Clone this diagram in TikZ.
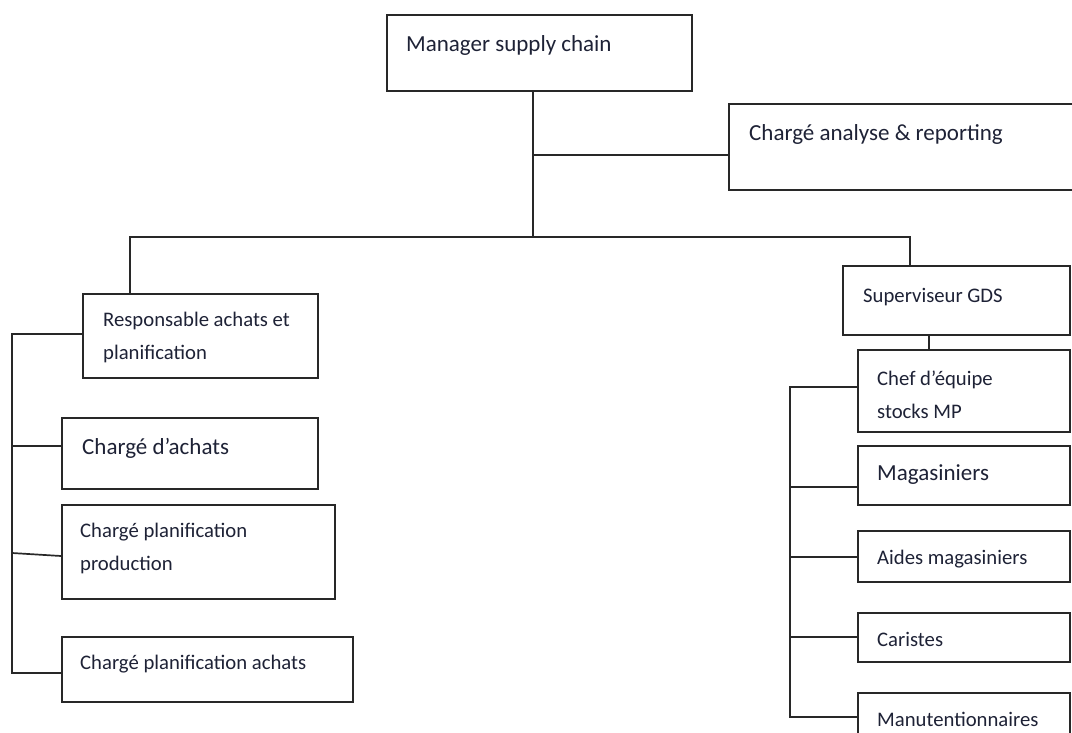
\documentclass[tikz,border=0pt]{standalone}
\usepackage{fontspec}
\setmainfont{Carlito}
\definecolor{inkline}{RGB}{40,40,40}
\definecolor{inktext}{RGB}{30,34,54}
\begin{document}
\begin{tikzpicture}[x=1pt,y=-1pt,
  box/.style={draw=inkline, line width=1.7pt, rectangle, inner sep=0pt, anchor=north west},
  big/.style={text=inktext, inner sep=0pt, anchor=west, font=\fontsize{23}{28}\selectfont},
  small/.style={text=inktext, inner sep=0pt, anchor=west, align=left, font=\fontsize{20.7}{33}\selectfont},
  link/.style={draw=inkline, line width=1.7pt, line cap=rect}]
\useasboundingbox (0,0) rectangle (1072,733);
\clip (0,0) rectangle (1072,733);
\fill[white] (0,0) rectangle (1072,733);

% boxes: top left corner, width and height
\node[box, minimum width=305pt, minimum height=76pt] (mgr)  at (386,14)  {};
\node[box, minimum width=352pt, minimum height=86pt] (ana)  at (728,103) {};
\node[box, minimum width=235pt, minimum height=84pt] (resp) at (82,293)  {};
\node[box, minimum width=256pt, minimum height=71pt] (ach)  at (61,417)  {};
\node[box, minimum width=273pt, minimum height=94pt] (prod) at (61,504)  {};
\node[box, minimum width=291pt, minimum height=65pt] (pach) at (61,636)  {};
\node[box, minimum width=227pt, minimum height=69pt] (sup)  at (842,265) {};
\node[box, minimum width=212pt, minimum height=82pt] (chef) at (857,349) {};
\node[box, minimum width=212pt, minimum height=59pt] (mag)  at (857,445) {};
\node[box, minimum width=212pt, minimum height=51pt] (aide) at (857,530) {};
\node[box, minimum width=212pt, minimum height=49pt] (car)  at (857,612) {};
\node[box, minimum width=212pt, minimum height=53pt] (manu) at (857,692) {};

% labels
\node[big]   (mgr-t)  at (406,45)  {Manager supply chain};
\node[big]   (ana-t)  at (749,134) {Chargé analyse \& reporting};
\node[small] (resp-t) at (103,337) {Responsable achats et\\planification};
\node[big]   (ach-t)  at (82,448)  {Chargé d’achats};
\node[small] (prod-t) at (80,548)  {Chargé planification\\production};
\node[small] (pach-t) at (80,664)  {Chargé planification achats};
\node[small] (sup-t)  at (863,297) {Superviseur GDS};
\node[small] (chef-t) at (877,395) {Chef d’équipe\\stocks MP};
\node[big]   (mag-t)  at (877,475) {Magasiniers};
\node[small] (aide-t) at (877,559) {Aides magasiniers};
\node[small] (car-t)  at (877,639) {Caristes};
\node[small] (manu-t) at (877,719) {Manutentionnaires};

% junction points of the tree
\coordinate (trunk) at (533,237);
\coordinate (anaj)  at (533,155);
\coordinate (busL)  at (130,237);
\coordinate (busR)  at (910,237);
\coordinate (supj)  at (929,0);
\coordinate (lsp)   at (12,0);
\coordinate (rsp)   at (790,0);

% top level
\draw[link] (trunk |- mgr.south) -- (trunk);
\draw[link] (anaj) -- (anaj -| ana.west);
\draw[link] (busL) -- (busR);
\draw[link] (busL) -- (busL |- resp.north);
\draw[link] (busR) -- (busR |- sup.north);

% purchasing and planning branch
\draw[link] (resp.west |- 0,334) -- (lsp |- 0,334) -- (lsp |- 0,673) -- (pach.west |- 0,673);
\draw[link] (lsp |- 0,446) -- (ach.west |- 0,446);
\draw[link] (lsp |- 0,553) -- (prod.west |- 0,556);

% warehouse branch
\draw[link] (supj |- sup.south) -- (supj |- chef.north);
\draw[link] (chef.west |- 0,387) -- (rsp |- 0,387) -- (rsp |- 0,717) -- (manu.west |- 0,717);
\draw[link] (rsp |- 0,487) -- (mag.west |- 0,487);
\draw[link] (rsp |- 0,557) -- (aide.west |- 0,557);
\draw[link] (rsp |- 0,637) -- (car.west |- 0,637);
\end{tikzpicture}
\end{document}
